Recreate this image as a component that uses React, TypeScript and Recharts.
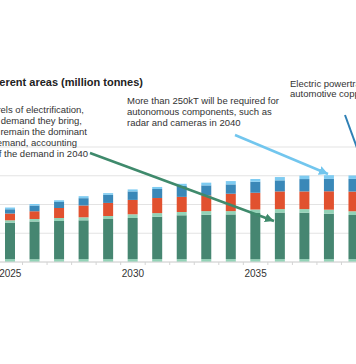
import { Bar, BarChart, CartesianGrid, XAxis, YAxis } from 'recharts'

// copper demand by area, million tonnes (chart is a crop of a wider figure)
const YEARS = [2025, 2026, 2027, 2028, 2029, 2030, 2031, 2032, 2033, 2034, 2035, 2036, 2037, 2038, 2039]
const BASE = [0.2, 0.2, 0.2, 0.2, 0.2, 0.2, 0.2, 0.2, 0.2, 0.2, 0.2, 0.2, 0.2, 0.2, 0.2]
const EV = [2.54, 2.61, 2.65, 2.7, 2.79, 2.86, 2.95, 3.05, 3.09, 3.11, 3.21, 3.24, 3.23, 3.16, 3.07]
const HYBRID = [0.16, 0.18, 0.21, 0.21, 0.21, 0.26, 0.25, 0.23, 0.25, 0.23, 0.24, 0.24, 0.25, 0.28, 0.26]
const WIRING = [0.47, 0.54, 0.7, 0.82, 0.91, 1.0, 1.05, 1.05, 1.09, 1.21, 1.16, 1.23, 1.23, 1.28, 1.37]
const POWERTRAIN = [0.3, 0.4, 0.42, 0.51, 0.56, 0.59, 0.63, 0.76, 0.7, 0.65, 0.77, 0.77, 0.86, 0.86, 0.88]
const AUTONOMOUS = [0.12, 0.11, 0.12, 0.14, 0.12, 0.14, 0.14, 0.15, 0.19, 0.23, 0.19, 0.23, 0.24, 0.26, 0.24]
const Y_TICKS = [0, 2, 4, 6, 8]

const LEFT_NOTE = [
  'rels of electrification,',
  'demand they bring,',
  'remain the dominant',
  'emand, accounting',
  'f the demand in 2040',
]
const MID_NOTE = ['More than 250kT will be required for', 'autonomous components, such as', 'radar and cameras in 2040']
const RIGHT_NOTE = ['Electric powertra', 'automotive copp']

const data = YEARS.map((year, i) => ({
  year,
  base: BASE[i],
  ev: EV[i],
  hybrid: HYBRID[i],
  wiring: WIRING[i],
  powertrain: POWERTRAIN[i],
  autonomous: AUTONOMOUS[i],
}))

const FONT = '"Liberation Sans", Arial, Helvetica, sans-serif'
const CHART_W = 368
const STEP = CHART_W / YEARS.length

function YearTick({ x, y, payload }: { x?: number; y?: number; payload?: { value: number } }) {
  if (x == null || y == null || !payload) return null
  const labelled = Number(payload.value) % 5 === 0
  return (
    <g>
      <line x1={x + STEP / 2} x2={x + STEP / 2} y1={y} y2={y + 3} stroke="#d4d4d4" />
      {labelled && (
        <text x={x} y={y + 15} textAnchor="middle" fontSize={10} fill="#333" fontFamily={FONT}>
          {payload.value}
        </text>
      )}
    </g>
  )
}

function Notes() {
  return (
    <svg width={356} height={364} style={{ position: 'absolute', left: 0, top: 0, pointerEvents: 'none' }}>
      <defs>
        <marker id="headGreen" markerUnits="userSpaceOnUse" markerWidth={10} markerHeight={10}
          refX={9} refY={5} orient="auto">
          <path d="M0,0.5 L9,5 L0,9.5 Z" fill="#3f8a6c" />
        </marker>
        <marker id="headBlue" markerUnits="userSpaceOnUse" markerWidth={10} markerHeight={10}
          refX={9} refY={5} orient="auto">
          <path d="M0,0.5 L9,5 L0,9.5 Z" fill="#72c6ee" />
        </marker>
      </defs>
      <text x={143} y={86} textAnchor="end" fontSize={11} fontWeight="bold" fill="#222" fontFamily={FONT}>
        erent areas (million tonnes)
      </text>
      {LEFT_NOTE.map((t, i) => (
        <text key={t} x={[84, 82, 87, 77, 88][i]} y={113 + i * 11} textAnchor="end" fontSize={9.5}
          fill="#333" fontFamily={FONT}>
          {t}
        </text>
      ))}
      {MID_NOTE.map((t, i) => (
        <text key={t} x={127} y={104 + i * 11} fontSize={9.5} fill="#333" fontFamily={FONT}>
          {t}
        </text>
      ))}
      {RIGHT_NOTE.map((t, i) => (
        <text key={t} x={290} y={86.5 + i * 10.5} fontSize={9.5} fill="#333" fontFamily={FONT}>
          {t}
        </text>
      ))}
      <line x1={90} y1={153} x2={274} y2={221} stroke="#3f8a6c" strokeWidth={2.5} markerEnd="url(#headGreen)" />
      <line x1={235} y1={135} x2={328} y2={174} stroke="#72c6ee" strokeWidth={2.5} markerEnd="url(#headBlue)" />
      <line x1={345} y1={115} x2={360} y2={156} stroke="#2f80b5" strokeWidth={2} />
    </svg>
  )
}

export default function App() {
  return (
    <div style={{ position: 'absolute', left: 0, top: 0, width: 356, height: 364, overflow: 'hidden', background: '#fff' }}>
      <div style={{ position: 'absolute', left: -2.25, top: 137 }}>
        <BarChart width={CHART_W} height={155} data={data} barSize={10}
          margin={{ top: 10, right: 0, bottom: 0, left: 0 }}>
          <CartesianGrid vertical={false} stroke="#e3e3e3" />
          <XAxis dataKey="year" interval={0} height={30} tickLine={false} tickSize={0} tickMargin={0}
            axisLine={{ stroke: '#d6d6d6' }} tick={<YearTick />} />
          <YAxis hide domain={[0, 8]} ticks={Y_TICKS} />
          <Bar dataKey="base" stackId="a" fill="#93d3b7" isAnimationActive={false} />
          <Bar dataKey="ev" stackId="a" fill="#468671" isAnimationActive={false} />
          <Bar dataKey="hybrid" stackId="a" fill="#93d3b7" isAnimationActive={false} />
          <Bar dataKey="wiring" stackId="a" fill="#e1512f" isAnimationActive={false} />
          <Bar dataKey="powertrain" stackId="a" fill="#3a88b8" isAnimationActive={false} />
          <Bar dataKey="autonomous" stackId="a" fill="#7ecbf1" isAnimationActive={false} />
        </BarChart>
      </div>
      <Notes />
    </div>
  )
}
